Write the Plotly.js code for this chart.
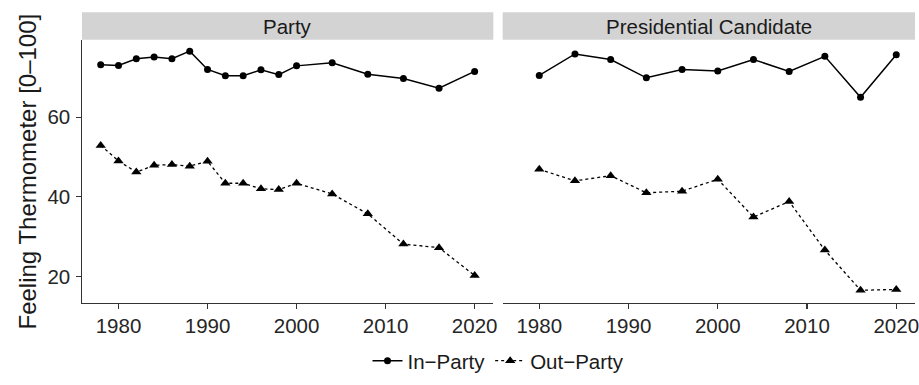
<!DOCTYPE html>
<html>
<head>
<meta charset="utf-8">
<script src="https://cdn.plot.ly/plotly-3.0.1.min.js"></script>
<style>html,body{margin:0;padding:0;background:#fff;}#chart{width:919px;height:385px;}</style>
</head>
<body>
<div id="chart"></div>
<script>
// ---- data ----
const partyYears = [1978,1980,1982,1984,1986,1988,1990,1992,1994,1996,1998,2000,2004,2008,2012,2016,2020];
const partyIn    = [73.2,73.0,74.7,75.1,74.7,76.6,72.0,70.4,70.4,71.9,70.7,72.9,73.7,70.8,69.7,67.3,71.5];
const partyOut   = [52.9,49.0,46.2,47.9,48.1,47.7,48.9,43.4,43.4,42.0,41.8,43.4,40.7,35.7,28.1,27.2,20.2];
const candYears  = [1980,1984,1988,1992,1996,2000,2004,2008,2012,2016,2020];
const candIn     = [70.5,75.9,74.5,69.9,72.0,71.6,74.5,71.5,75.3,65.0,75.7];
const candOut    = [46.9,44.0,45.3,41.0,41.4,44.4,34.9,38.8,26.6,16.5,16.7];
const panelNames = ["Party", "Presidential Candidate"];
const seriesNames = ["In\u2212Party", "Out\u2212Party"];
const xTicks = [1980,1990,2000,2010,2020];
const yTicks = [20,40,60];
const yTitle = "Feeling Thermometer [0\u2013100]";

const FONT = "Liberation Sans, Arial, Helvetica, sans-serif";
const inStyle = {line:{color:"#000",width:1.5}, marker:{symbol:"circle",size:7,color:"#000"}};
const outStyle = {line:{color:"#000",width:1.3,dash:"3px,3px"}, marker:{symbol:"triangle-up",size:9,color:"#000"}};

const traces = [
  Object.assign({x:partyYears,y:partyIn,name:seriesNames[0],legendgroup:"in",mode:"lines+markers",xaxis:"x",yaxis:"y"}, inStyle),
  Object.assign({x:partyYears,y:partyOut,name:seriesNames[1],legendgroup:"out",mode:"lines+markers",xaxis:"x",yaxis:"y"}, outStyle),
  Object.assign({x:candYears,y:candIn,name:seriesNames[0],legendgroup:"in",showlegend:false,mode:"lines+markers",xaxis:"x2",yaxis:"y"}, inStyle),
  Object.assign({x:candYears,y:candOut,name:seriesNames[1],legendgroup:"out",showlegend:false,mode:"lines+markers",xaxis:"x2",yaxis:"y"}, outStyle)
];

const axisCommon = {
  showgrid:false, zeroline:false, showline:true, linecolor:"#333", linewidth:1.2,
  ticks:"outside", ticklen:4.5, tickwidth:1.2, tickcolor:"#333",
  tickfont:{family:FONT,size:20.5,color:"#262626"}, ticklabeloverflow:"allow"
};
const xRange = [1975.9, 2022.1];
const dom1 = [0, 0.4938], dom2 = [0.505, 1];
const stripTop = 1.1052;

const layout = {
  width:919, height:385,
  margin:{l:82, r:4, t:40, b:72.3},
  paper_bgcolor:"#fff", plot_bgcolor:"#fff",
  font:{family:FONT, color:"#1a1a1a"},
  xaxis:Object.assign({}, axisCommon, {domain:dom1, range:xRange, tickvals:xTicks, anchor:"y"}),
  xaxis2:Object.assign({}, axisCommon, {domain:dom2, range:xRange, tickvals:xTicks, anchor:"y"}),
  yaxis:Object.assign({}, axisCommon, {range:[13.3,79.4], tickvals:yTicks, anchor:"x", ticklabelstandoff:2}),
  showlegend:true,
  legend:{orientation:"h", x:0.5, xanchor:"center", y:-0.22, yanchor:"middle",
          font:{family:FONT,size:20.5,color:"#1a1a1a"}, bgcolor:"rgba(0,0,0,0)", traceorder:"normal"},
  shapes:[
    {type:"rect", xref:"paper", yref:"paper", x0:dom1[0], x1:dom1[1], y0:1.001, y1:stripTop, fillcolor:"#D3D3D3", line:{width:0}, layer:"below"},
    {type:"rect", xref:"paper", yref:"paper", x0:dom2[0], x1:dom2[1], y0:1.001, y1:stripTop, fillcolor:"#D3D3D3", line:{width:0}, layer:"below"}
  ],
  annotations:[
    {text:panelNames[0], xref:"paper", yref:"paper", x:(dom1[0]+dom1[1])/2, y:(1+stripTop)/2, xanchor:"center", yanchor:"middle", showarrow:false, font:{family:FONT,size:20.5,color:"#1a1a1a"}},
    {text:panelNames[1], xref:"paper", yref:"paper", x:(dom2[0]+dom2[1])/2, y:(1+stripTop)/2, xanchor:"center", yanchor:"middle", showarrow:false, font:{family:FONT,size:20.5,color:"#1a1a1a"}},
    {text:yTitle, xref:"paper", yref:"paper", x:-0.066, y:0.5, xanchor:"center", yanchor:"middle", textangle:-90, showarrow:false, font:{family:FONT,size:24,color:"#1a1a1a"}}
  ]
};

Plotly.newPlot("chart", traces, layout, {staticPlot:true, displayModeBar:false});
</script>
</body>
</html>
